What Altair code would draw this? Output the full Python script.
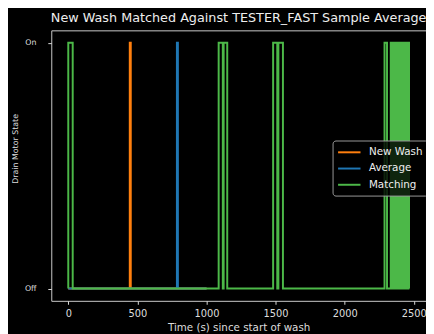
import altair as alt
import pandas as pd

series_names = ["New Wash", "Average", "Matching"]
series_colors = ["#ff7f0e", "#1f77b4", "#4cb848"]

# change points (time in s, state after change: 1 = On, 0 = Off)
new_wash_time = [0, 445, 452, 1000]
new_wash_state = [0, 1, 0, 0]

average_time = [0, 786, 793, 1000]
average_state = [0, 1, 0, 0]

matching_time = [0, 0, 32, 1088, 1118, 1124, 1150, 1482, 1512, 1520, 1553,
                 2288, 2306, 2333, 2341, 2349, 2357, 2365, 2373, 2381, 2389,
                 2397, 2405, 2413, 2421, 2429, 2437, 2445, 2453, 2461, 2465]
matching_state = [0, 1, 0, 1, 0, 1, 0, 1, 0, 1, 0,
                  1, 0, 1, 0, 1, 0, 1, 0, 1, 0,
                  1, 0, 1, 0, 1, 0, 1, 0, 1, 0]

x_ticks = [0, 500, 1000, 1500, 2000, 2500]
y_ticks = [0, 1]
y_tick_labels = ["Off", "On"]

rows = []
for name, times, states in [("New Wash", new_wash_time, new_wash_state),
                            ("Average", average_time, average_state),
                            ("Matching", matching_time, matching_state)]:
    for i, (t, s) in enumerate(zip(times, states)):
        rows.append({"series": name, "t": t, "state": s, "idx": i})
df = pd.DataFrame(rows)

label_expr = "datum.value == 1 ? '%s' : '%s'" % (y_tick_labels[1], y_tick_labels[0])

base = alt.Chart(df).mark_line(interpolate="step-after", strokeWidth=2, clip=True).encode(
    x=alt.X("t:Q",
            scale=alt.Scale(domain=[-123, 2588], nice=False, zero=False),
            axis=alt.Axis(values=x_ticks, format="d", title="Time (s) since start of wash",
                          labelFontSize=10, labelPadding=4, titlePadding=5, titleFontSize=10.5)),
    y=alt.Y("state:Q",
            scale=alt.Scale(domain=[-0.05, 1.05], nice=False, zero=False),
            axis=alt.Axis(values=y_ticks, labelExpr=label_expr, title="Drain Motor State",
                          labelFontSize=8, labelPadding=12, titlePadding=5, titleFontSize=8,
                          titleY=120)),
    color=alt.Color("series:N",
                    scale=alt.Scale(domain=series_names, range=series_colors),
                    legend=alt.Legend(title=None, orient="none", legendX=286, legendY=112,
                                      symbolType="M-2,0L2,0", symbolStrokeWidth=2, symbolSize=130,
                                      symbolOffset=5,
                                      labelExpr="datum.label + '\u00a0\u00a0'",
                                      labelColor="#eeeeee", labelFontSize=10.5, labelFont="DejaVu Sans",
                                      labelOffset=13, rowPadding=3.5, padding=5,
                                      strokeColor="#999999", fillColor="rgba(0,0,0,0.8)",
                                      cornerRadius=3)),
    order=alt.Order("idx:Q"),
)

layers = [base.transform_filter(alt.datum.series == n) for n in series_names]

chart = alt.layer(*layers).properties(
    width=381,
    height=275,
    title=alt.Title("New Wash Matched Against TESTER_FAST Sample Average",
                    fontSize=13, font="DejaVu Sans", fontWeight="normal",
                    color="#eeeeee", offset=6, anchor="middle"),
    background="black",
    padding={"left": 44, "top": 20, "right": 0, "bottom": 31},
    autosize=alt.AutoSizeParams(type="none"),
).configure_view(
    stroke="#cccccc", strokeWidth=1
).configure_axis(
    domain=False, grid=False, tickColor="#dddddd", tickSize=3.5,
    labelColor="#dddddd", titleColor="#dddddd", labelFont="DejaVu Sans",
    titleFont="DejaVu Sans", titleFontWeight="normal",
)

chart.save("out.html", embed_options={"renderer": "svg", "actions": False})
